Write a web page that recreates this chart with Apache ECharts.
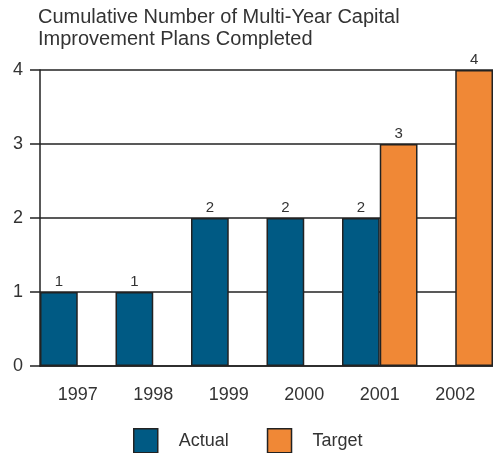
<!DOCTYPE html>
<html><head><meta charset="utf-8">
<script src="https://cdn.jsdelivr.net/npm/echarts@6/dist/echarts.min.js"></script>
<style>html,body{margin:0;padding:0;background:#fff}#c{width:493px;height:453px}</style>
</head><body><div id="c"></div>
<script>
var categories = ['1997','1998','1999','2000','2001','2002'];
var actual = [1, 1, 2, 2, 2, null];
var target = [null, null, null, null, 3, 4];
var yTicks = [0, 1, 2, 3, 4];

var chart = echarts.init(document.getElementById('c'));
var font = 'Liberation Sans, Arial, sans-serif';
var border = {borderColor:'#222', borderWidth:1.5};
var lbl = {show:true, position:'top', distance:3, color:'#333', fontSize:15, fontFamily:font};
chart.setOption({
  animation:false,
  title:{text:'Cumulative Number of Multi-Year Capital\nImprovement Plans Completed', left:38, top:6, padding:0,
    textStyle:{fontSize:20, fontWeight:'normal', color:'#333', fontFamily:font, lineHeight:22}},
  legend:{left:133, top:428, padding:0, itemWidth:24, itemHeight:24, itemGap:38, icon:'rect',
    textStyle:{fontSize:18, color:'#333', fontFamily:font, padding:[0,0,0,16]},
    data:[{name:'Actual', itemStyle:{color:'#005a84', borderColor:'#222', borderWidth:1.5}},
          {name:'Target', itemStyle:{color:'#f08836', borderColor:'#222', borderWidth:1.5}}]},
  grid:{left:40, top:70, width:456, height:296, containLabel:false},
  xAxis:{type:'category', data:categories,
    axisLine:{lineStyle:{color:'#222', width:1.5}},
    axisTick:{alignWithLabel:true, length:10, lineStyle:{color:'#222', width:1.5}},
    axisLabel:{fontSize:18, color:'#333', fontFamily:font, margin:20}},
  yAxis:{type:'value', min:yTicks[0], max:yTicks[yTicks.length-1], interval:1,
    axisLine:{show:true, lineStyle:{color:'#222', width:1.5}},
    axisTick:{show:true, length:10, lineStyle:{color:'#222', width:1.5}},
    axisLabel:{fontSize:18, color:'#333', fontFamily:font, margin:17},
    splitLine:{lineStyle:{color:'#222', width:1.5}}},
  series:[
    {name:'Actual', type:'bar', data:actual, barGap:'0%', barCategoryGap:'0%',
      itemStyle:Object.assign({color:'#005a84'}, border), label:lbl},
    {name:'Target', type:'bar', data:target, barGap:'0%', barCategoryGap:'0%',
      itemStyle:Object.assign({color:'#f08836'}, border), label:lbl}
  ]
});
</script></body></html>
